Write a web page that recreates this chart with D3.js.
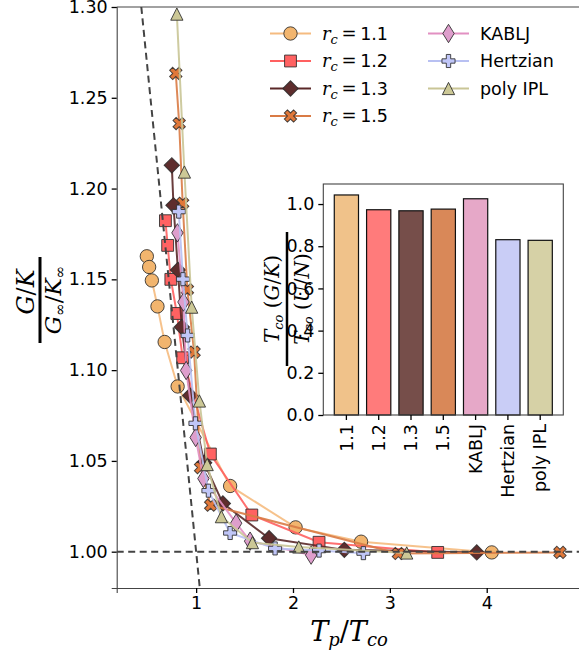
<!DOCTYPE html>
<html><head><meta charset="utf-8">
<script src="https://cdn.jsdelivr.net/npm/d3@7"></script>
<style>body{margin:0;background:#fff}svg{display:block}</style>
</head><body>
<svg id="c" width="579" height="651"></svg>
<script>
// ---------------- DATA ----------------
const seriesNames = ["rc1.1", "rc1.2", "rc1.3", "rc1.5", "KABLJ", "Hertzian", "poly IPL"];
const legendLabels = ["1.1", "1.2", "1.3", "1.5", "KABLJ", "Hertzian", "poly IPL"];

const x_rc11 = [0.491, 0.515, 0.543, 0.601, 0.675, 0.809, 1.351, 2.027, 2.703, 4.052];
const y_rc11 = [1.1627, 1.1568, 1.1494, 1.1351, 1.1155, 1.0910, 1.0362, 1.0134, 1.0055, 0.9996];

const x_rc12 = [0.683, 0.706, 0.739, 0.801, 0.861, 1.147, 1.575, 2.269, 3.494];
const y_rc12 = [1.1823, 1.1687, 1.1500, 1.1312, 1.1068, 1.0538, 1.0202, 1.0052, 0.9996];

const x_rc13 = [0.749, 0.766, 0.812, 0.852, 0.938, 1.083, 1.276, 1.753, 2.530, 3.897];
const y_rc13 = [1.2128, 1.1908, 1.1552, 1.1237, 1.0860, 1.0490, 1.0266, 1.0074, 1.0010, 0.9996];

const x_rc15 = [0.790, 0.825, 0.861, 0.910, 0.979, 1.046, 1.150, 3.088, 4.756];
const y_rc15 = [1.2634, 1.2358, 1.1919, 1.1443, 1.1099, 1.0463, 1.0256, 0.9990, 0.9996];

const x_kablj = [0.807, 0.869, 0.897, 0.995, 1.075, 1.413, 1.557, 2.187];
const y_kablj = [1.1756, 1.1375, 1.0998, 1.0629, 1.0403, 1.0157, 1.0058, 0.9981];

const x_hertz = [0.821, 0.864, 0.912, 0.993, 1.127, 1.351, 1.815, 2.269, 2.727];
const y_hertz = [1.1873, 1.1501, 1.1191, 1.0707, 1.0336, 1.0103, 1.0018, 1.0006, 0.9992];

const x_ipl = [0.801, 0.879, 0.954, 1.034, 1.114, 1.261, 1.581, 2.060, 3.174];
const y_ipl = [1.2961, 1.2091, 1.1347, 1.0830, 1.0480, 1.0193, 1.0050, 1.0026, 0.9993];

// inset bar values: T_co(G/K) / T_co(U/N)
const barCategories = ["1.1", "1.2", "1.3", "1.5", "KABLJ", "Hertzian", "poly IPL"];
const barValues = [1.043, 0.973, 0.968, 0.976, 1.025, 0.831, 0.828];

const xTicks = [1, 2, 3, 4];
const yTicks = [1.00, 1.05, 1.10, 1.15, 1.20, 1.25, 1.30];
const insetYTicks = [0.0, 0.2, 0.4, 0.6, 0.8, 1.0];

// dashed guide line: y = 1 + slope*(x-1)
const guideSlope = -0.53;

// ---------------- STYLE ----------------
const lineColors = ["#f5bb80", "#ff6060", "#5a2828", "#d97b45", "#e290c2", "#b8c0f2", "#c9c596"];
const fillColors = ["#f2b56e", "#ff6262", "#5e2d2d", "#e0783a", "#de9ecc", "#c0c6f8", "#ccc896"];
const barColors = ["#f0c28a", "#ff7b7b", "#764e4a", "#d98858", "#e6a8c8", "#c9cdf6", "#d6d1a6"];
const shapes = ["circle", "square", "diamond", "xfill", "thindiamond", "plus", "triangle"];

const svg = d3.select("#c");
const M = {left: 116.7, right: 580, top: 7, bottom: 588};

const x = d3.scaleLinear().domain([0.18, 4.963]).range([M.left, M.right]);
const y = d3.scaleLinear().domain([0.98, 1.30]).range([M.bottom, M.top]);

const serif = "'DejaVu Serif', 'Liberation Serif', serif";
const sans = "'DejaVu Sans', sans-serif";
const tickFont = 17.5;

svg.append("defs").append("clipPath").attr("id", "clip")
  .append("rect").attr("x", M.left).attr("y", M.top)
  .attr("width", M.right - M.left).attr("height", M.bottom - M.top);

// symbol types
const triType = {draw(ctx, size) { const r = Math.sqrt(size) / 2; ctx.moveTo(0, -r); ctx.lineTo(r, r); ctx.lineTo(-r, r); ctx.closePath(); }};
const thinDiamond = {draw(ctx, size) { const h = Math.sqrt(size) * 0.75, w = h * 0.62; ctx.moveTo(0, -h); ctx.lineTo(w, 0); ctx.lineTo(0, h); ctx.lineTo(-w, 0); ctx.closePath(); }};
function markerPath(shape) {
  switch (shape) {
    case "circle": return {d: d3.symbol().type(d3.symbolCircle).size(140)(), rot: 0};
    case "square": return {d: d3.symbol().type(d3.symbolSquare).size(140)(), rot: 0};
    case "diamond": return {d: d3.symbol().type(d3.symbolSquare).size(118)(), rot: 45};
    case "xfill": return {d: d3.symbol().type(d3.symbolCross).size(95)(), rot: 45};
    case "thindiamond": return {d: d3.symbol().type(thinDiamond).size(150)(), rot: 0};
    case "plus": return {d: d3.symbol().type(d3.symbolCross).size(95)(), rot: 0};
    case "triangle": return {d: d3.symbol().type(triType).size(150)(), rot: 0};
  }
}

const allX = [x_rc11, x_rc12, x_rc13, x_rc15, x_kablj, x_hertz, x_ipl];
const allY = [y_rc11, y_rc12, y_rc13, y_rc15, y_kablj, y_hertz, y_ipl];

const plot = svg.append("g").attr("clip-path", "url(#clip)");
const line = d3.line().x(d => x(d[0])).y(d => y(d[1]));

seriesNames.forEach((name, i) => {
  const pts = allX[i].map((v, k) => [v, allY[i][k]]);
  const g = plot.append("g");
  g.append("path").datum(pts).attr("d", line)
    .attr("fill", "none").attr("stroke", lineColors[i]).attr("stroke-width", 2).attr("stroke-opacity", 0.9);
  const mp = markerPath(shapes[i]);
  g.selectAll("path.m").data(pts).join("path").attr("class", "m")
    .attr("d", mp.d)
    .attr("transform", d => `translate(${x(d[0])},${y(d[1])}) rotate(${mp.rot})`)
    .attr("fill", fillColors[i]).attr("stroke", "#2a2a2a").attr("stroke-opacity", 0.85).attr("stroke-width", 1);
});

// dashed guides (on top)
plot.append("line").attr("x1", M.left).attr("x2", M.right).attr("y1", y(1)).attr("y2", y(1))
  .attr("stroke", "#444").attr("stroke-width", 2).attr("stroke-dasharray", "7,4.5");
const gy0 = 0.98, gy1 = 1.30;
plot.append("line")
  .attr("x1", x(1 + (gy1 - 1) / guideSlope)).attr("y1", y(gy1))
  .attr("x2", x(1 + (gy0 - 1) / guideSlope)).attr("y2", y(gy0))
  .attr("stroke", "#444").attr("stroke-width", 2).attr("stroke-dasharray", "7,4.5");

// axes
const xAxis = svg.append("g").attr("transform", `translate(0,${M.bottom})`)
  .call(d3.axisBottom(x).tickValues(xTicks).tickFormat(d3.format("d")).tickSize(5).tickPadding(4));
const yAxis = svg.append("g").attr("transform", `translate(${M.left},0)`)
  .call(d3.axisLeft(y).tickValues(yTicks).tickFormat(d3.format(".2f")).tickSize(5).tickPadding(4));
[xAxis, yAxis].forEach(a => {
  a.selectAll("text").attr("font-family", sans).attr("font-size", tickFont).attr("fill", "#000");
  a.selectAll(".tick line").attr("stroke", "#000").attr("stroke-width", 1.3);
  a.select(".domain").attr("stroke", "#444").attr("stroke-width", 1.1);
});
// top spine
svg.append("line").attr("x1", M.left).attr("x2", M.right).attr("y1", M.top).attr("y2", M.top)
  .attr("stroke", "#444").attr("stroke-width", 1.1);

// x label
const xl = svg.append("text").attr("x", 349).attr("y", 641).attr("text-anchor", "middle")
  .attr("font-family", serif).attr("font-style", "italic").attr("font-size", 27);
xl.append("tspan").text("T");
xl.append("tspan").attr("font-size", 18).attr("dy", 5).text("p");
xl.append("tspan").attr("dy", -5).attr("font-style", "normal").text("/");
xl.append("tspan").text("T");
xl.append("tspan").attr("font-size", 18).attr("dy", 5).text("co");

// y label (fraction)
const yl = svg.append("g").attr("transform", "translate(40,300) rotate(-90)");
const ynum = yl.append("text").attr("x", 8).attr("y", -6).attr("text-anchor", "middle")
  .attr("font-family", serif).attr("font-style", "italic").attr("font-size", 24);
ynum.append("tspan").text("G");
ynum.append("tspan").attr("font-style", "normal").text("/");
ynum.append("tspan").text("K");
yl.append("line").attr("x1", -43).attr("x2", 43).attr("y1", 0).attr("y2", 0).attr("stroke", "#000").attr("stroke-width", 3);
const yden = yl.append("text").attr("x", 0).attr("y", 21).attr("text-anchor", "middle")
  .attr("font-family", serif).attr("font-style", "italic").attr("font-size", 23);
yden.append("tspan").text("G");
yden.append("tspan").attr("font-size", 15).attr("dy", 4).attr("font-style", "normal").text("∞");
yden.append("tspan").attr("dy", -4).attr("font-style", "normal").text("/");
yden.append("tspan").text("K");
yden.append("tspan").attr("font-size", 15).attr("dy", 4).attr("font-style", "normal").text("∞");

// legend
const legPos = [[270, 33.5], [270, 61], [270, 88.5], [270, 116], [428, 33.5], [428, 61], [428, 88.5]];
seriesNames.forEach((name, i) => {
  const [lx, ly] = legPos[i];
  const g = svg.append("g");
  g.append("line").attr("x1", lx).attr("x2", lx + 41).attr("y1", ly).attr("y2", ly)
    .attr("stroke", lineColors[i]).attr("stroke-width", 2);
  const mp = markerPath(shapes[i]);
  g.append("path").attr("d", mp.d).attr("transform", `translate(${lx + 20.5},${ly}) rotate(${mp.rot})`)
    .attr("fill", fillColors[i]).attr("stroke", "#2a2a2a").attr("stroke-opacity", 0.85);
  const t = g.append("text").attr("x", lx + 52).attr("y", ly + 6).attr("font-size", 17.5).attr("font-family", sans);
  if (i < 4) {
    t.append("tspan").attr("font-family", serif).attr("font-style", "italic").attr("font-size", 18).text("r");
    t.append("tspan").attr("font-family", serif).attr("font-style", "italic").attr("font-size", 13).attr("dy", 4).text("c");
    t.append("tspan").attr("font-family", serif).attr("dy", -4).attr("font-size", 18).text("\u2009=\u2009");
    t.append("tspan").text(legendLabels[i]);
  } else {
    t.text(legendLabels[i]);
  }
});

// ---------------- INSET ----------------
const I = {left: 323.3, right: 563.3, top: 184, bottom: 415};
const bx = d3.scaleBand().domain(barCategories).range([I.left, I.right]).paddingInner(0.25).paddingOuter(0.34);
const by = d3.scaleLinear().domain([0, 1.095]).range([I.bottom, I.top]);
const inset = svg.append("g");
inset.append("rect").attr("x", I.left).attr("y", I.top).attr("width", I.right - I.left).attr("height", I.bottom - I.top)
  .attr("fill", "#fff");
inset.selectAll("rect.bar").data(barCategories).join("rect").attr("class", "bar")
  .attr("x", d => bx(d)).attr("width", bx.bandwidth())
  .attr("y", (d, i) => by(barValues[i])).attr("height", (d, i) => by(0) - by(barValues[i]))
  .attr("fill", (d, i) => barColors[i]).attr("stroke", "#111").attr("stroke-width", 1.2);
inset.append("rect").attr("x", I.left).attr("y", I.top).attr("width", I.right - I.left).attr("height", I.bottom - I.top)
  .attr("fill", "none").attr("stroke", "#444").attr("stroke-width", 1.1);
const iy = inset.append("g").attr("transform", `translate(${I.left},0)`)
  .call(d3.axisLeft(by).tickValues(insetYTicks).tickFormat(d3.format(".1f")).tickSize(5).tickPadding(4));
const ix = inset.append("g").attr("transform", `translate(0,${I.bottom})`)
  .call(d3.axisBottom(bx).tickSize(5).tickPadding(4));
[iy, ix].forEach(a => {
  a.selectAll("text").attr("font-family", sans).attr("font-size", tickFont).attr("fill", "#000");
  a.selectAll(".tick line").attr("stroke", "#000").attr("stroke-width", 1.3);
  a.select(".domain").remove();
});
ix.selectAll("text").attr("transform", "rotate(-90)").attr("text-anchor", "end")
  .attr("x", -9).attr("y", 0).attr("dy", "0.35em");

// inset y label fraction
const il = svg.append("g").attr("transform", "translate(287,299) rotate(-90)");
function tcoLabel(sel, a, b) {
  sel.append("tspan").text("T");
  sel.append("tspan").attr("font-size", 13).attr("dy", 4).text("co");
  sel.append("tspan").attr("dy", -4).attr("font-style", "normal").text(" (");
  sel.append("tspan").text(a);
  sel.append("tspan").attr("font-style", "normal").text("/");
  sel.append("tspan").text(b);
  sel.append("tspan").attr("font-style", "normal").text(")");
}
const inum = il.append("text").attr("x", 0).attr("y", -8).attr("text-anchor", "middle")
  .attr("font-family", serif).attr("font-style", "italic").attr("font-size", 20);
tcoLabel(inum, "G", "K");
il.append("line").attr("x1", -67).attr("x2", 67).attr("y1", 0).attr("y2", 0).attr("stroke", "#000").attr("stroke-width", 2.5);
const iden = il.append("text").attr("x", 0).attr("y", 22).attr("text-anchor", "middle")
  .attr("font-family", serif).attr("font-style", "italic").attr("font-size", 20);
tcoLabel(iden, "U", "N");
</script>
</body></html>
